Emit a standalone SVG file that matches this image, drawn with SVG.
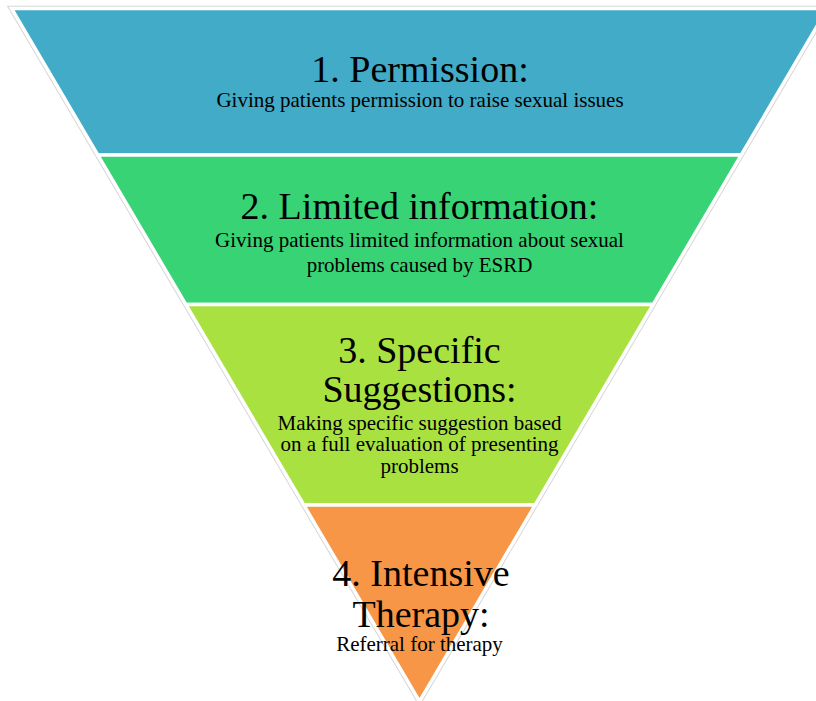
<svg xmlns="http://www.w3.org/2000/svg" width="816" height="701" viewBox="0 0 816 701">
<style>
.band{stroke:#ffffff;stroke-width:3.5;stroke-linejoin:miter}
.t{font-family:"Liberation Serif","Times New Roman",serif;fill:#000;text-anchor:middle}
.h{font-size:38px}
.s{font-size:21px}
</style>
<rect width="816" height="701" fill="#ffffff"/>
<polygon points="11.5,8.5 827.5,8.5 419.5,701.5" fill="none" stroke="#d6d6d6" stroke-width="5.5"/>
<g id="node1">
<polygon class="band" points="11.5,8.5 827.5,8.5 741.26,155 97.74,155" fill="#42abc7"/>
<text class="t h" x="420" y="82">1. Permission:</text>
<text class="t s" x="420" y="107">Giving patients permission to raise sexual issues</text>
</g>
<g id="node2">
<polygon class="band" points="97.74,155 741.26,155 653.24,304.5 185.76,304.5" fill="#38d374"/>
<text class="t h" x="419.5" y="219">2. Limited information:</text>
<text class="t s" x="419.5" y="246.5">Giving patients limited information about sexual</text>
<text class="t s" x="419.5" y="272">problems caused by ESRD</text>
</g>
<g id="node3">
<polygon class="band" points="185.76,304.5 653.24,304.5 535.21,505 303.79,505" fill="#a9e240"/>
<text class="t h" x="419.5" y="363">3. Specific</text>
<text class="t h" x="419.5" y="402">Suggestions:</text>
<text class="t s" x="419.5" y="430">Making specific suggestion based</text>
<text class="t s" x="419.5" y="451">on a full evaluation of presenting</text>
<text class="t s" x="419.5" y="472.5">problems</text>
</g>
<g id="node4">
<polygon class="band" points="303.79,505 535.21,505 419.5,701.5" fill="#f79646"/>
<text class="t h" x="421" y="586">4. Intensive</text>
<text class="t h" x="421" y="626.5">Therapy:</text>
<text class="t s" x="419.5" y="650.5">Referral for therapy</text>
</g>
<g id="connectors"></g>
</svg>
